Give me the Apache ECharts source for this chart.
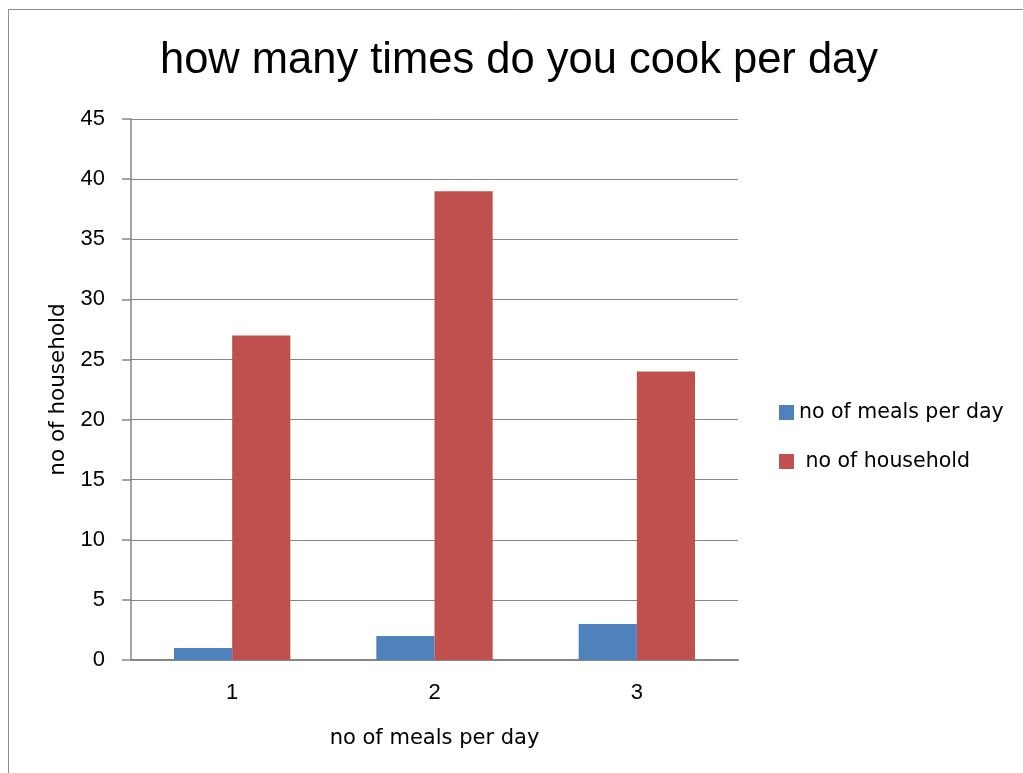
<!DOCTYPE html>
<html>
<head>
<meta charset="utf-8">
<title>how many times do you cook per day</title>
<script src="https://cdn.jsdelivr.net/npm/echarts@6/dist/echarts.min.js"></script>
<style>
  html, body { margin: 0; padding: 0; background: #fff; }
  #chart { width: 1023px; height: 773px; }
</style>
</head>
<body>
<div id="chart"></div>
<script>
// 数据
var categories = ["1", "2", "3"];
var mealsPerDay = [1, 2, 3];
var households = [27, 39, 24];
var seriesNames = ["no of meals per day", " no of household"];

var myChart = echarts.init(document.getElementById("chart"));
var font = "'Liberation Sans', Arial, sans-serif";
// 图例和坐标轴名称用宽一点的字体
var wideFont = "'DejaVu Sans', sans-serif";

var option = {
  animation: false,
  backgroundColor: "#fff",
  // 外边框
  graphic: [
    {
      type: "rect",
      shape: { x: 8.5, y: 9.5, width: 1100, height: 900 },
      style: { fill: "none", stroke: "#8c8c8c", lineWidth: 1 }
    }
  ],
  title: {
    text: "how many times do you cook per day",
    left: 519,
    textAlign: "center",
    top: 39,
    padding: 0,
    textStyle: {
      color: "#000",
      fontSize: 43.5,
      fontWeight: "normal",
      fontFamily: font
    }
  },
  legend: {
    orient: "vertical",
    left: 779,
    top: 402,
    padding: 0,
    itemWidth: 15,
    itemHeight: 15,
    itemGap: 28,
    icon: "rect",
    textStyle: { color: "#000", fontSize: 20.5, fontFamily: wideFont },
    data: seriesNames
  },
  color: ["#4F81BD", "#C0504D"],
  grid: {
    left: 131,
    top: 119,
    right: 285,
    bottom: 113,
    containLabel: false
  },
  xAxis: {
    type: "category",
    data: categories,
    name: "no of meals per day",
    nameLocation: "middle",
    nameGap: 68,
    nameTextStyle: { color: "#000", fontSize: 21, fontFamily: wideFont },
    axisLine: { show: true, lineStyle: { color: "#868686", width: 2 } },
    axisTick: { show: false },
    axisLabel: { color: "#000", fontSize: 22, fontFamily: font, margin: 22 },
    splitLine: { show: false }
  },
  yAxis: {
    type: "value",
    min: 0,
    max: 45,
    interval: 5,
    name: "no of household",
    nameLocation: "middle",
    nameGap: 62,
    nameRotate: 90,
    nameTextStyle: { color: "#000", fontSize: 21.5, fontFamily: wideFont },
    axisLine: { show: true, lineStyle: { color: "#868686", width: 1.5 } },
    axisTick: { show: true, length: 9, lineStyle: { color: "#868686", width: 1.5 } },
    axisLabel: { color: "#000", fontSize: 22, fontFamily: font, margin: 26 },
    splitLine: { show: true, lineStyle: { color: "#868686", width: 1 } }
  },
  series: [
    {
      name: seriesNames[0],
      type: "bar",
      data: mealsPerDay,
      barGap: "0%",
      barCategoryGap: "42.5%"
    },
    {
      name: seriesNames[1],
      type: "bar",
      data: households,
      barGap: "0%",
      barCategoryGap: "42.5%"
    }
  ]
};
option && myChart.setOption(option);
</script>
</body>
</html>
